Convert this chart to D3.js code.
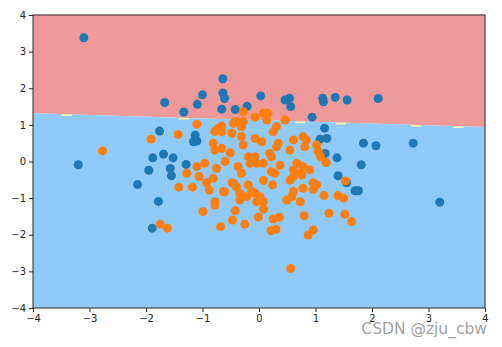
<!DOCTYPE html>
<html>
<head>
<meta charset="utf-8">
<script src="https://cdn.jsdelivr.net/npm/d3@7"></script>
<style>
  body { margin: 0; background: #fff; }
  svg { display: block; font-family: "DejaVu Sans", sans-serif; }
</style>
</head>
<body>
<div id="chart"></div>
<script>
// decision boundary (straight line across the grid)
const boundaryX = [-4, 4];
const boundaryY = [1.32, 0.94];
// little yellow bits of the middle contour level along the boundary
const yellowX = [-3.40, -1.33, 0.73, 1.45, 2.78, 3.53];

const blueX = [-3.10, -1.67, -1.33, -1.09, -1.00, -0.64, -0.64, -0.61, -0.66, -0.42, -0.21, 0.03, 0.46, 0.54, 0.56, 1.13, 1.14, 1.35, 1.56, 2.11,
  0.94, 1.16, 1.08, 1.20, 1.85, 2.07, 2.73, 1.17, 1.38, 1.81, 1.40, 1.55, 1.70, 1.76, 3.20, -1.76, -1.13, -1.16, -1.10, -3.20,
  -1.88, -1.69, -1.52, -1.95, -1.57, -1.29, -1.55, -2.15, -1.78, -1.89];
const blueY = [3.38, 1.61, 1.35, 1.56, 1.82, 2.26, 1.87, 1.72, 1.43, 1.42, 1.51, 1.79, 1.68, 1.73, 1.50, 1.73, 1.63, 1.75, 1.68, 1.72,
  1.21, 0.91, 0.61, 0.63, 0.50, 0.43, 0.50, 0.22, 0.10, -0.09, -0.39, -0.58, -0.80, -0.80, -1.11, 0.83, 0.72, 0.54, 0.56, -0.09,
  0.10, 0.20, 0.10, -0.24, -0.19, -0.08, -0.39, -0.63, -1.09, -1.82];

const orangeX = [-2.77, -1.91, -1.43, -1.10, -0.28, -0.66, -0.78, -0.45, -0.42, -0.28, -0.31, -0.72, -0.66, -0.07, 0.08, 0.16, 0.14, 0.46, 0.31, 0.25,
  -0.07, 0.05, 0.34, 0.31, 0.61, 0.55, 0.78, 0.84, 0.81, 1.02, 1.05, 1.09, 1.19, 0.19, 0.22, -0.07, 0.08, 0.37, 0.67, 0.78,
  0.90, 0.61, 0.73, 1.53, 0.08, 0.28, 0.24, -0.07, 0.02, 0.08, -0.04, 0.08, -0.01, 0.25, 0.36, 0.21, 0.30, 0.55, 0.61, 0.76,
  0.61, 0.49, 0.58, 0.73, 0.78, 0.96, 1.02, 0.96, 1.15, 1.40, 1.50, 0.80, 1.24, 1.52, 1.64, 0.87, 0.96, 0.56, -1.75, -1.62,
  -1.42, -1.18, -0.99, -0.78, -0.68, -0.42, -0.47, -0.25, -0.88, -0.61, -1.28, -1.06, -0.93, -0.81, -0.45, -0.34, -0.34, -0.22, -0.48, -0.31,
  -0.28, -0.66, -0.51, -0.19, -0.16, -0.04, -0.60, -0.75, -0.37, -0.31, 0.22, -0.48, -0.40, -0.19, -0.63, -0.13, -0.81, -0.78, -1.10, -0.96,
  -0.78];
const orangeY = [0.29, 0.61, 0.74, 1.02, 1.36, 0.97, 0.82, 1.04, 1.09, 1.09, 0.95, 0.91, 0.81, 1.21, 1.32, 1.32, 1.13, 1.13, 0.95, 0.81,
  0.63, 0.54, 0.50, 0.40, 0.59, 0.31, 0.68, 0.59, 0.40, 0.45, 0.27, 0.13, -0.03, 0.22, 0.13, 0.13, -0.05, -0.10, -0.05, -0.14,
  -0.23, -0.23, -0.32, -0.53, -0.52, -0.32, -0.64, -0.87, -0.96, -1.10, -1.10, -1.30, -1.52, -1.57, -1.52, -1.89, -1.85, -0.51, -0.41, -0.37,
  -0.82, -1.05, -0.96, -1.10, -0.73, -0.58, -0.64, -0.76, -0.93, -0.93, -1.00, -1.48, -1.41, -1.44, -1.64, -2.01, -1.87, -2.92, -1.71, -1.82,
  -0.70, -0.70, -1.37, -1.19, -1.78, -1.34, -1.60, -1.71, -0.78, -0.83, -0.32, -0.41, -0.58, -0.46, -0.60, -0.87, -1.05, -0.96, 0.77, 0.68,
  0.45, 0.36, 0.24, 0.13, -0.05, -0.05, 0.00, -0.19, -0.14, -0.32, -0.28, -0.58, -0.69, -0.64, -0.82, -0.82, 0.50, 0.31, -0.14, -0.05,
  -1.10];

const xTicks = [-4, -3, -2, -1, 0, 1, 2, 3, 4];
const yTicks = [-4, -3, -2, -1, 0, 1, 2, 3, 4];

const W = 502, H = 347;
const margin = {top: 15, right: 17, bottom: 39, left: 33};
const width = W - margin.left - margin.right,
  height = H - margin.top - margin.bottom;

const svg = d3.select("#chart").append("svg")
  .attr("width", W)
  .attr("height", H);

const g = svg.append("g")
  .attr("transform", "translate(" + margin.left + "," + margin.top + ")");

const x = d3.scaleLinear().domain([-4, 4]).range([0, width]);
const y = d3.scaleLinear().domain([-4, 4]).range([height, 0]);

const boundary = boundaryX.map((v, i) => [v, boundaryY[i]]);

// blue region below the boundary, red above
const areaBelow = d3.area().x(d => x(d[0])).y0(y(-4)).y1(d => y(d[1]));
const areaAbove = d3.area().x(d => x(d[0])).y0(y(4)).y1(d => y(d[1]));

g.append("path").datum(boundary).attr("d", areaAbove).attr("fill", "#EF9A9A");
g.append("path").datum(boundary).attr("d", areaBelow).attr("fill", "#90CAF9");

const boundaryAt = xv => boundaryY[0] + (boundaryY[1] - boundaryY[0]) * (xv - boundaryX[0]) / (boundaryX[1] - boundaryX[0]);

g.selectAll(".yel")
  .data(yellowX)
  .join("line")
  .attr("class", "yel")
  .attr("x1", d => x(d - 0.09))
  .attr("x2", d => x(d + 0.09))
  .attr("y1", d => y(boundaryAt(d)) + 1)
  .attr("y2", d => y(boundaryAt(d)) + 1)
  .attr("stroke", "#FFF59D")
  .attr("stroke-width", 1.5);

const blue = blueX.map((v, i) => [v, blueY[i]]);
const orange = orangeX.map((v, i) => [v, orangeY[i]]);

g.selectAll(".blue")
  .data(blue)
  .join("circle")
  .attr("class", "blue")
  .attr("cx", d => x(d[0]))
  .attr("cy", d => y(d[1]))
  .attr("r", 4.5)
  .attr("fill", "#1f77b4");

g.selectAll(".orange")
  .data(orange)
  .join("circle")
  .attr("class", "orange")
  .attr("cx", d => x(d[0]))
  .attr("cy", d => y(d[1]))
  .attr("r", 4.5)
  .attr("fill", "#ff7f0e");

// axes
const xAxis = g.append("g")
  .attr("transform", "translate(0," + height + ")")
  .call(d3.axisBottom(x).tickValues(xTicks).tickSize(4).tickSizeOuter(0).tickPadding(3));
const yAxis = g.append("g")
  .call(d3.axisLeft(y).tickValues(yTicks).tickSize(4).tickSizeOuter(0).tickPadding(3));

[xAxis, yAxis].forEach(a => {
  a.selectAll("text").attr("font-size", 10).attr("fill", "#262626").attr("font-family", "DejaVu Sans");
  a.selectAll("line").attr("stroke", "#262626");
  a.select(".domain").remove();
});

// frame
g.append("rect")
  .attr("width", width)
  .attr("height", height)
  .attr("fill", "none")
  .attr("stroke", "#262626")
  .attr("stroke-width", 1);

// watermark (sits over the last x tick labels, as in the original)
svg.append("text")
  .attr("x", 487)
  .attr("y", 334)
  .attr("text-anchor", "end")
  .attr("font-size", 15.5)
  .attr("font-family", "DejaVu Sans")
  .attr("fill", "#777")
  .attr("fill-opacity", 0.7)
  .text("CSDN @zju_cbw");
</script>
</body>
</html>
